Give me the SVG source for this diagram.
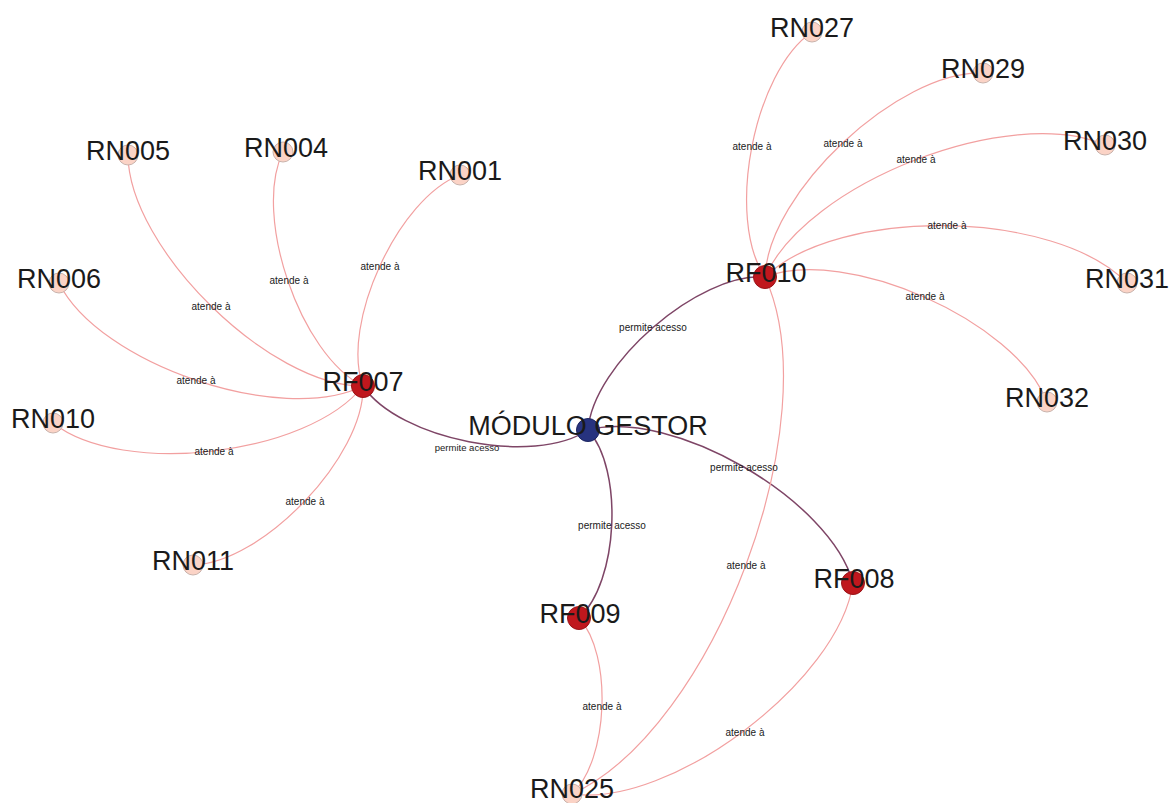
<svg xmlns="http://www.w3.org/2000/svg" width="1169" height="803" viewBox="0 0 1169 803">
<style>
.bg{fill:#ffffff}
.e-at{fill:none;stroke:#f2a0a0;stroke-width:1.2}
.e-pa{fill:none;stroke:#7e4566;stroke-width:1.5}
.el{font-family:"Liberation Sans",Arial,sans-serif;font-size:10px;fill:#1a1a1a;text-anchor:middle}
.rf{fill:#c0171d;stroke:#9a1418;stroke-width:1}
.rn{fill:#fbd3c6;stroke:#c9b2ab;stroke-width:1}
.mg{fill:#27337f;stroke:#1c2560;stroke-width:1}
.nl{font-family:"Liberation Sans",Arial,sans-serif;font-size:27px;fill:#1a1a1a;text-anchor:middle}
</style>
<rect class="bg" x="0" y="0" width="1169" height="803"/>
<g id="connectors">
  <path class="e-pa" d="M588,430 C534.2,466.2 399.2,439.8 363,386"/>
  <path class="e-pa" d="M588,430 C592.8,364 699,272.2 765,277"/>
  <path class="e-pa" d="M588,430 C671.6,407.6 830.6,499.4 853,583"/>
  <path class="e-pa" d="M588,430 C623.8,469.4 618.4,582.2 579,618"/>
  <path class="e-at" d="M363,386 C269.8,386.8 128.8,248.2 128,155"/>
  <path class="e-at" d="M363,386 C300.2,355.2 252.2,214.8 283,152"/>
  <path class="e-at" d="M363,386 C340.2,324.4 398.4,197.8 460,175"/>
  <path class="e-at" d="M363,386 C281.6,426.2 99.2,364.4 59,283"/>
  <path class="e-at" d="M363,386 C308.4,455.4 122.4,477.6 53,423"/>
  <path class="e-at" d="M363,386 C364.8,455.8 262.8,563.2 193,565"/>
  <path class="e-at" d="M765,277 C725.4,218.6 753.6,71.6 812,32"/>
  <path class="e-at" d="M765,277 C767.8,192.6 898.6,70.2 983,73"/>
  <path class="e-at" d="M765,277 C806.6,182.6 1010.6,103.4 1105,145"/>
  <path class="e-at" d="M765,277 C838.6,205.8 1055.8,209.4 1127,283"/>
  <path class="e-at" d="M765,277 C846.4,245.6 1015.6,320.6 1047,402"/>
  <path class="e-at" d="M765,277 C829.8,419 714,729.2 572,794"/>
  <path class="e-at" d="M853,583 C839,681.4 670.4,808 572,794"/>
  <path class="e-at" d="M579,618 C612.8,654.6 608.6,760.2 572,794"/>
  <g id="edge-labels">
    <text class="el" x="467" y="451" style="font-size:9.5px">permite acesso</text>
    <text class="el" x="653" y="331">permite acesso</text>
    <text class="el" x="744" y="471">permite acesso</text>
    <text class="el" x="612" y="529">permite acesso</text>
    <text class="el" x="211" y="310">atende à</text>
    <text class="el" x="289" y="284">atende à</text>
    <text class="el" x="380" y="270">atende à</text>
    <text class="el" x="196" y="384">atende à</text>
    <text class="el" x="214" y="455">atende à</text>
    <text class="el" x="305" y="505">atende à</text>
    <text class="el" x="752" y="150">atende à</text>
    <text class="el" x="843" y="147">atende à</text>
    <text class="el" x="916" y="163">atende à</text>
    <text class="el" x="947" y="229">atende à</text>
    <text class="el" x="925" y="300">atende à</text>
    <text class="el" x="746" y="569">atende à</text>
    <text class="el" x="745" y="736">atende à</text>
    <text class="el" x="602" y="710">atende à</text>
  </g>
</g>
<g id="node-RN005"><circle class="rn" cx="128" cy="155" r="10"/><text class="nl" x="128" y="160">RN005</text></g>
<g id="node-RN004"><circle class="rn" cx="283" cy="152" r="10"/><text class="nl" x="286" y="157">RN004</text></g>
<g id="node-RN001"><circle class="rn" cx="460" cy="175" r="10"/><text class="nl" x="460" y="180">RN001</text></g>
<g id="node-RN006"><circle class="rn" cx="59" cy="283" r="10"/><text class="nl" x="59" y="288">RN006</text></g>
<g id="node-RN010"><circle class="rn" cx="53" cy="423" r="10"/><text class="nl" x="53" y="428">RN010</text></g>
<g id="node-RN011"><circle class="rn" cx="193" cy="565" r="10"/><text class="nl" x="193" y="570">RN011</text></g>
<g id="node-RN027"><circle class="rn" cx="812" cy="32" r="10"/><text class="nl" x="812" y="37">RN027</text></g>
<g id="node-RN029"><circle class="rn" cx="983" cy="73" r="10"/><text class="nl" x="983" y="78">RN029</text></g>
<g id="node-RN030"><circle class="rn" cx="1105" cy="145" r="10"/><text class="nl" x="1105" y="150">RN030</text></g>
<g id="node-RN031"><circle class="rn" cx="1127" cy="283" r="10"/><text class="nl" x="1127" y="288">RN031</text></g>
<g id="node-RN032"><circle class="rn" cx="1047" cy="402" r="10"/><text class="nl" x="1047" y="407">RN032</text></g>
<g id="node-RN025"><circle class="rn" cx="572" cy="794" r="10"/><text class="nl" x="572" y="798">RN025</text></g>
<g id="node-RF007"><circle class="rf" cx="363" cy="386" r="11.5"/><text class="nl" x="363" y="391">RF007</text></g>
<g id="node-RF010"><circle class="rf" cx="765" cy="277" r="11.5"/><text class="nl" x="766" y="282">RF010</text></g>
<g id="node-RF009"><circle class="rf" cx="579" cy="618" r="11.5"/><text class="nl" x="580" y="623">RF009</text></g>
<g id="node-RF008"><circle class="rf" cx="853" cy="583" r="11.5"/><text class="nl" x="854" y="588">RF008</text></g>
<g id="node-MG"><circle class="mg" cx="588" cy="430" r="11.5"/><text class="nl" x="588" y="435">MÓDULO GESTOR</text></g>
</svg>
